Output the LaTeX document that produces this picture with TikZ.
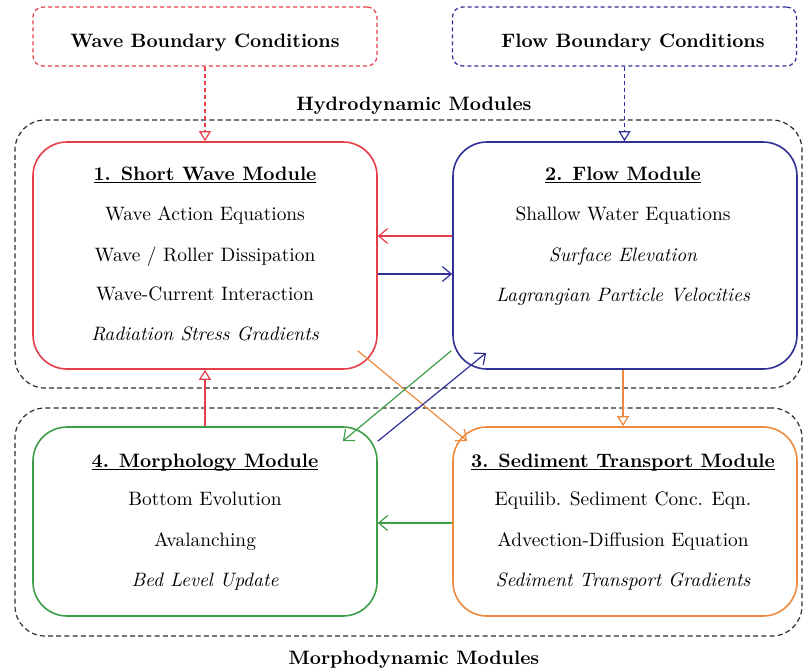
\documentclass[tikz,border=0pt]{standalone}
\usetikzlibrary{arrows.meta,calc}
\definecolor{cred}{RGB}{230,62,72}
\definecolor{cblue}{RGB}{48,48,150}
\definecolor{cgreen}{RGB}{62,158,72}
\definecolor{corange}{RGB}{238,138,62}
\definecolor{cdash}{RGB}{45,45,45}
\newcommand\myul[1]{\setbox0\hbox{#1}\rlap{\rule[-1.7pt]{\wd0}{0.55pt}}\box0}
\begin{document}
\begin{tikzpicture}[x=0.5pt,y=-0.5pt,
  modbox/.style={draw,rectangle,rounded corners=17pt,line width=0.8pt,minimum width=172pt,inner sep=0pt},
  bcbox/.style={draw,rectangle,rounded corners=5pt,line width=0.6pt,dash pattern=on 2pt off 1.5pt,minimum width=172pt,minimum height=29.5pt,inner sep=0pt},
  groupbox/.style={draw=cdash,rectangle,rounded corners=15pt,line width=0.6pt,dash pattern=on 2.5pt off 1.6pt,minimum width=393.5pt,inner sep=0pt},
  ln/.style={anchor=base,inner sep=0pt,font=\fontsize{9.7}{11}\selectfont},
  ttl/.style={anchor=base,inner sep=0pt,font=\fontsize{9.7}{11}\selectfont\bfseries},
  conn/.style={line width=0.6pt},
  barb/.style={-{Straight Barb[length=4.5pt,width=7.5pt]}},
  tri/.style={-{Triangle[open,length=5pt,width=6pt]}}
]
\useasboundingbox (0,0) rectangle (804,669);

% group boxes
\node[groupbox,minimum height=134pt] (hydro) at (408.5,254) {};
\node[groupbox,minimum height=114pt] (morpho) at (408.5,522) {};
\node[ttl] (hydrot) at (414,110) {Hydrodynamic Modules};
\node[ttl] (morphot) at (414,664) {Morphodynamic Modules};

% boundary condition boxes
\node[bcbox,draw=cred] (wbc) at (205,36.5) {};
\node[bcbox,draw=cblue] (fbc) at (624.5,36.5) {};
\node[ttl] (wbct) at (205,47) {Wave Boundary Conditions};
\node[ttl] (fbct) at (633,47) {Flow Boundary Conditions};

% module boxes
\node[modbox,draw=cred,minimum height=113.5pt] (sw) at (205,255.5) {};
\node[modbox,draw=cblue,minimum height=113.5pt] (flow) at (625,255.5) {};
\node[modbox,draw=cgreen,minimum height=94.5pt] (morph) at (205,521.5) {};
\node[modbox,draw=corange,minimum height=94.5pt] (sed) at (625,521.5) {};

% short wave text
\node[ttl] (sw1) at (205,180) {\myul{1. Short Wave Module}};
\node[ln] (sw2) at (205,220) {Wave Action Equations};
\node[ln] (sw3) at (205,261) {Wave / Roller Dissipation};
\node[ln] (sw4) at (205,300) {Wave-Current Interaction};
\node[ln] (sw5) at (205,340) {\itshape Radiation Stress Gradients};

% flow text
\node[ttl] (fl1) at (623,180) {\myul{2. Flow Module}};
\node[ln] (fl2) at (623,220) {Shallow Water Equations};
\node[ln] (fl3) at (623,261) {\itshape Surface Elevation};
\node[ln] (fl4) at (623,301) {\itshape Lagrangian Particle Velocities};

% morphology text
\node[ttl] (mo1) at (205,467) {\myul{4. Morphology Module}};
\node[ln] (mo2) at (205,505) {Bottom Evolution};
\node[ln] (mo3) at (205,546) {Avalanching};
\node[ln] (mo4) at (205,586) {\itshape Bed Level Update};

% sediment text
\node[ttl] (se1) at (623,467) {\myul{3. Sediment Transport Module}};
\node[ln] (se2) at (623,505) {Equilib. Sediment Conc. Eqn.};
\node[ln] (se3) at (623,546) {Advection-Diffusion Equation};
\node[ln] (se4) at (623,586) {\itshape Sediment Transport Gradients};

% connectors
\draw[conn,cred,tri,dash pattern=on 2pt off 1.5pt] (wbc.south) -- (sw.north);
\draw[conn,cblue,tri,dash pattern=on 2pt off 1.5pt] (fbc.south) -- (fbc.south |- flow.north);
\draw[conn,cred,barb] ([yshift=9.75pt]flow.west) -- ([yshift=9.75pt]sw.east);
\draw[conn,cblue,barb] ([yshift=-9.25pt]sw.east) -- ([yshift=-9.25pt]flow.west);
\draw[conn,cred,tri] (morph.north) -- (sw.south);
\draw[conn,corange,tri] ([xshift=-1pt]flow.south) -- ([xshift=-1pt]sed.north);
\draw[conn,cgreen,barb] ([yshift=-0.75pt]sed.west) -- ([yshift=-0.75pt]morph.east);
\draw[conn,corange,barb] ([xshift=-10pt,yshift=9.5pt]sw.south east) -- ([xshift=7.5pt,yshift=-7.5pt]sed.north west);
\draw[conn,cgreen,barb] ([xshift=-0.5pt,yshift=9.5pt]flow.south west) -- ([xshift=-17.5pt,yshift=-7.5pt]morph.north east);
\draw[conn,cblue,barb] ([yshift=-7.5pt]morph.north east) -- ([xshift=17pt,yshift=8.5pt]flow.south west);
\end{tikzpicture}
\end{document}
